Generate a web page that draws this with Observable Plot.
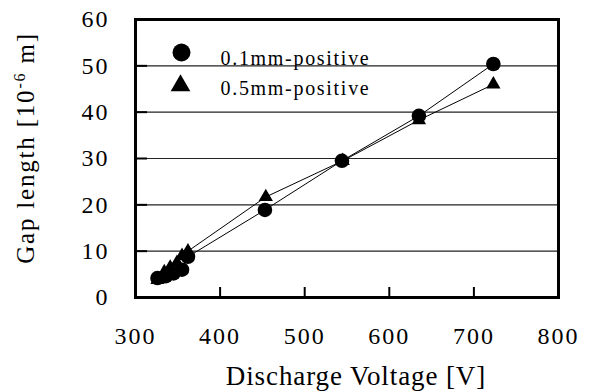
<!DOCTYPE html>
<html><head><meta charset="utf-8">
<script src="https://cdn.jsdelivr.net/npm/d3@7"></script>
<script src="https://cdn.jsdelivr.net/npm/@observablehq/plot@0.6"></script>
<style>body{margin:0;background:#fff} svg{display:block}</style>
</head><body><div id="chart"></div>
<script>
const seriesNames = ["0.1mm-positive", "0.5mm-positive"];
const voltage01 = [326, 336, 345, 355, 362, 453, 544, 635, 723];
const gap01 = [4.2, 4.6, 5.2, 6.0, 8.8, 18.9, 29.5, 39.2, 50.4];
const voltage05 = [326, 334, 341, 349, 355, 362, 454, 545, 635, 723];
const gap05 = [3.8, 5.5, 6.5, 7.5, 9.0, 10.0, 21.7, 29.5, 38.3, 46.0];
const xTicks = [300, 400, 500, 600, 700, 800];
const yTicks = [0, 10, 20, 30, 40, 50, 60];
const xLabel = "Discharge Voltage [V]";
const yLabelMain = "Gap length [10";
const yLabelSup = "-6";
const yLabelEnd = " m]";

const d01 = voltage01.map((v, i) => ({series: seriesNames[0], v, g: gap01[i]}));
const d05 = voltage05.map((v, i) => ({series: seriesNames[1], v, g: gap05[i]}));
const innerY = yTicks.slice(1, -1);
const innerX = xTicks.slice(1, -1);

const W = 590, H = 392, mL = 135, mR = 32, mT = 19, mB = 95;
const plotW = W - mL - mR, plotH = H - mT - mB;

const chart = Plot.plot({
  width: W, height: H,
  marginLeft: mL, marginRight: mR, marginTop: mT, marginBottom: mB,
  style: {fontFamily: "'Liberation Serif', 'Times New Roman', serif", background: "white", color: "black"},
  x: {domain: [300, 800]},
  y: {domain: [0, 60]},
  marks: [
    Plot.gridY({ticks: innerY, stroke: "#222", strokeOpacity: 1, strokeWidth: 1.2}),
    Plot.gridY({ticks: innerY, stroke: "#000", strokeOpacity: 1, strokeWidth: 2, insetRight: plotW - 12}),
    Plot.gridX({ticks: innerX, stroke: "#000", strokeOpacity: 1, strokeWidth: 2, insetTop: plotH - 10}),
    Plot.frame({stroke: "#000", strokeWidth: 3}),
    Plot.line(d01, {x: "v", y: "g", stroke: "#000", strokeWidth: 1}),
    Plot.line(d05, {x: "v", y: "g", stroke: "#000", strokeWidth: 1}),
    Plot.dot(d01, {x: "v", y: "g", r: 7.3, fill: "#000", stroke: "none", symbol: "circle"}),
    Plot.dot(d05, {x: "v", y: "g", r: 5.3, fill: "#000", stroke: "none", symbol: "triangle"}),
    Plot.dot([seriesNames[0]], {frameAnchor: "top-left", dx: 46, dy: 33, r: 9, fill: "#000", stroke: "none", symbol: "circle"}),
    Plot.dot([seriesNames[1]], {frameAnchor: "top-left", dx: 45, dy: 66, r: 7.3, fill: "#000", stroke: "none", symbol: "triangle"}),
    Plot.text([seriesNames[0]], {text: d => d, frameAnchor: "top-left", dx: 85, dy: 31, textAnchor: "start", fontSize: 20, fill: "#000"}),
    Plot.text([seriesNames[1]], {text: d => d, frameAnchor: "top-left", dx: 85, dy: 61, textAnchor: "start", fontSize: 20, fill: "#000"}),
    Plot.axisY({ticks: yTicks, tickSize: 0, tickPadding: 26, fontSize: 24, label: null}),
    Plot.axisX({ticks: xTicks, tickSize: 0, tickPadding: 29, fontSize: 24, label: null})
  ]
});
document.getElementById("chart").appendChild(chart);

const svg = d3.select(chart);
svg.selectAll("text").each(function() {
  const t = this.textContent;
  const el = d3.select(this);
  if (seriesNames.includes(t)) el.style("letter-spacing", "1.7px");
  else el.style("letter-spacing", "2px");
});

const yl = svg.append("text")
  .attr("transform", "translate(34,148) rotate(-90)")
  .attr("text-anchor", "middle")
  .attr("fill", "#000")
  .style("font-size", "25px")
  .style("letter-spacing", "1.8px");
yl.append("tspan").text(yLabelMain);
yl.append("tspan").attr("dy", -9).style("font-size", "16px").text(yLabelSup);
yl.append("tspan").attr("dy", 9).text(yLabelEnd);

svg.append("text")
  .attr("x", 356).attr("y", 385)
  .attr("text-anchor", "middle")
  .attr("fill", "#000")
  .style("font-size", "27px")
  .style("letter-spacing", "0.9px")
  .text(xLabel);
</script>
</body></html>
